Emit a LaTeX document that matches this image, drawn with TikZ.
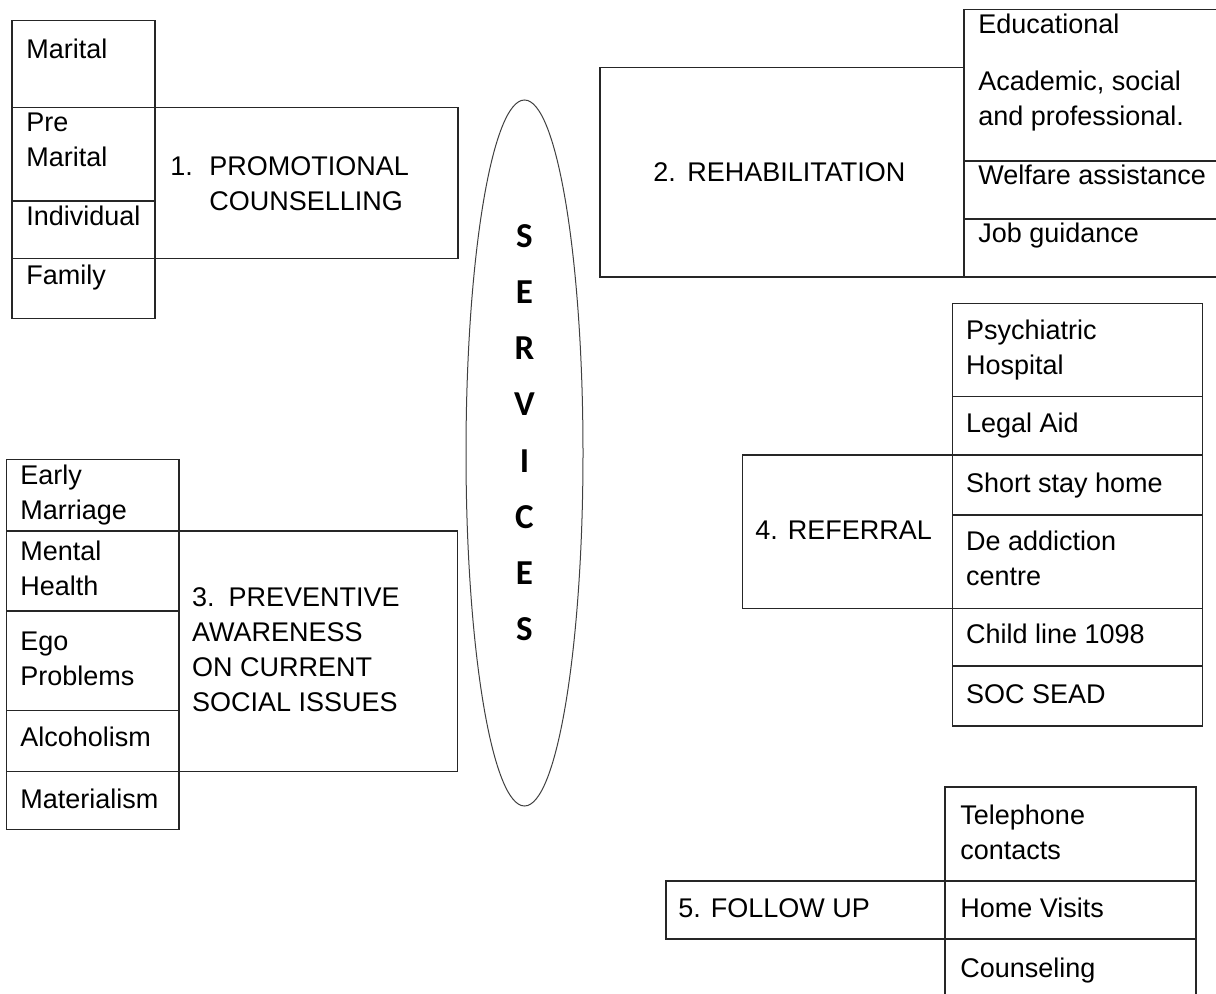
\documentclass[tikz,border=0pt]{standalone}
\usepackage{fontspec}
\setmainfont{Liberation Sans}
\newfontfamily\srvfont{Carlito}
\usetikzlibrary{shapes.geometric}
\newcommand\numtab[2]{\makebox[#1][l]{#2}}
\newcommand\svcstack[5]{
  \def\XL{#1} \def\XR{#2}
  \draw[rule] (\XL,#3) rectangle (\XR,#4);
  \foreach \y in {#5}
  {
    \draw[rule] (\XL,\y) -- (\XR,\y);
  }
}

\begin{document}
\begin{tikzpicture}[x=0.5pt, y=-0.5pt, font=\fontsize{13.5}{17.5}\selectfont,
  rule/.style={draw=black!85, line width=0.75pt},
  cell/.style={anchor=base west, inner sep=0pt, align=left},
  letter/.style={anchor=base, inner sep=0pt, font=\srvfont\bfseries\fontsize{17.5}{20}\selectfont}]
\useasboundingbox (0,0) rectangle (1216,994);
\clip (0,0) rectangle (1216,994);

\svcstack{12}{155}{20.7}{318.3}{107.3,201,258.7}
\draw[rule] (155,107.3) rectangle (458,258.7);
\node[cell] (marital) at (26,58.3) {Marital};
\node[cell] (premarital) at (26,166.7) {Pre\\Marital};
\node[cell] (individual) at (26,226) {Individual};
\node[cell] (family) at (26,285) {Family};
\node[cell] (promo) at (170,210.7) {\numtab{19.5pt}{1.}PROMOTIONAL\\\hspace{19.5pt}COUNSELLING};

\svcstack{964}{1230}{9.3}{277}{161,219}
\draw[rule] (600,67.3) rectangle (964,277);
\node[cell] (educational) at (978,33.3) {Educational};
\node[cell] (academic) at (978,126) {Academic, social\\and professional.};
\node[cell] (welfare) at (978,184.3) {Welfare assistance};
\node[cell] (jobguide) at (978,242.5) {Job guidance};
\node[cell] (rehab) at (653,181.7) {\numtab{17pt}{2.}REHABILITATION};

\svcstack{6.7}{179}{459.3}{829.3}{531,611,710.7,771.7}
\draw[rule] (179,531) rectangle (457.3,771.7);
\node[cell] (early) at (20,520) {Early\\Marriage};
\node[cell] (mental) at (20,595.7) {Mental\\Health};
\node[cell] (ego) at (20,685) {Ego\\Problems};
\node[cell] (alcohol) at (20,746.7) {Alcoholism};
\node[cell] (material) at (20,808.3) {Materialism};
\node[cell] (prevent) at (191.7,711.7) {\numtab{18.3pt}{3.}PREVENTIVE\\AWARENESS\\ON CURRENT\\SOCIAL ISSUES};

\svcstack{952.3}{1202.7}{303.3}{726}{396.7,455,515,608.3,666}
\draw[rule] (742.3,455) rectangle (952.3,608.3);
\node[cell] (psych) at (965.7,375) {Psychiatric\\Hospital};
\node[cell] (legal) at (965.7,432.3) {Legal Aid};
\node[cell] (shortstay) at (965.7,492.3) {Short stay home};
\node[cell] (deaddict) at (965.7,585.7) {De addiction\\centre};
\node[cell] (childline) at (965.7,643.3) {Child line 1098};
\node[cell] (socsead) at (965.7,703.3) {SOC SEAD};
\node[cell] (referral) at (755,539.3) {4. REFERRAL};

\svcstack{945}{1196}{787}{1010}{881,939}
\draw[rule] (666,881) rectangle (945,939);
\node[cell] (telephone) at (960,859) {Telephone\\contacts};
\node[cell] (homevisit) at (960,917) {Home Visits};
\node[cell] (counsel) at (960,977) {Counseling};
\node[cell] (followup) at (678,917) {5. FOLLOW UP};

\node[draw=black!75, line width=0.5pt, ellipse, minimum width=58.5pt, minimum height=353pt, inner sep=0pt] (services) at (524.5,453) {};
\foreach \c [count=\i from 0] in {S,E,R,V,I,C,E,S}
  \node[letter] (srv\i) at (524.5,247.5+56.14*\i) {\c};
\end{tikzpicture}
\end{document}
